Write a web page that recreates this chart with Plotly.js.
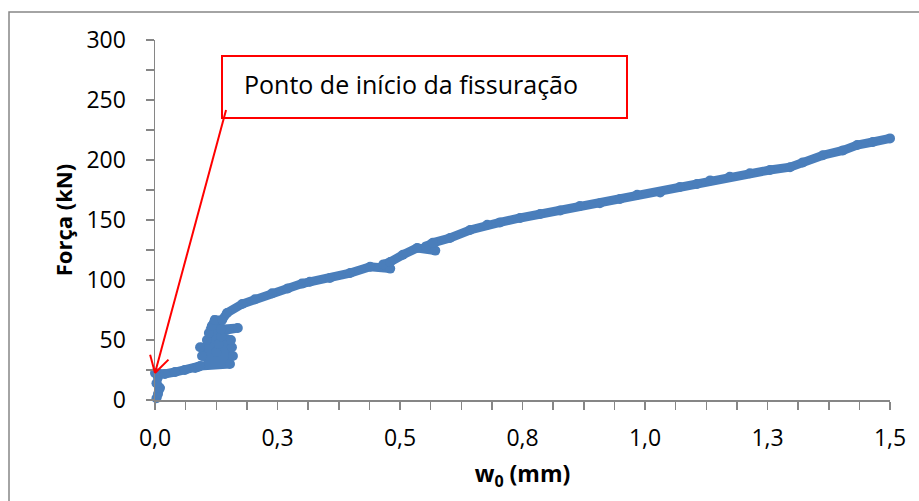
<!DOCTYPE html>
<html>
<head>
<meta charset="utf-8">
<script src="https://cdn.plot.ly/plotly-3.0.1.min.js"></script>
<style>
  html, body { margin: 0; padding: 0; background: #ffffff; }
  #chart { width: 919px; height: 501px; }
</style>
</head>
<body>
<div id="chart"></div>
<script>
// ---------- data ----------
const displacement = [
  0.003, 0.006, 0.010, 0.003, 0.006, 0.000,
  0.020, 0.041, 0.061, 0.082, 0.088,
  0.092, 0.153, 0.096, 0.159, 0.125, 0.092, 0.157, 0.130, 0.106, 0.155,
  0.135, 0.110, 0.169, 0.135, 0.116, 0.122, 0.137, 0.147,
  0.178, 0.204, 0.239, 0.271, 0.300, 0.316, 0.357, 0.398, 0.439,
  0.480, 0.466, 0.480, 0.506, 0.535, 0.572, 0.553, 0.567, 0.602,
  0.643, 0.678, 0.704, 0.745, 0.786, 0.827, 0.867, 0.908, 0.949,
  0.984, 1.031, 1.071, 1.106, 1.133, 1.173, 1.214, 1.255, 1.296,
  1.322, 1.363, 1.404, 1.433, 1.465, 1.500
];
const force = [
  1.5, 5, 10, 14, 19, 22.5,
  21.7, 23.3, 25, 26.7, 27.5,
  28.3, 30, 36.7, 36.7, 40, 44, 44, 47, 50, 50,
  53, 55.8, 60, 59, 61.7, 66.7, 66.7, 72.5,
  80, 84, 89, 93, 97, 98.5, 101.7, 105.8, 111,
  109.5, 113, 115, 121, 126.7, 124.5, 128, 131, 135,
  141.7, 146, 148, 151.7, 155, 158, 161.7, 164, 167.5,
  171, 173, 177.5, 180, 183, 186, 189, 191.7, 194,
  198, 204, 208, 212.5, 215, 218
];

const xTickVals = [0, 0.25, 0.5, 0.75, 1.0, 1.25, 1.5];
const xTickText = ["0,0", "0,3", "0,5", "0,8", "1,0", "1,3", "1,5"];
const yTickVals = [0, 50, 100, 150, 200, 250, 300];
const xRange = [0, 1.5];
const yRange = [0, 300];

const calloutText = "Ponto de início da fissuração";
const crackStart = { x: 0.0, y: 22.5 };   // arrow tip (data units)
const arrowTail  = { x: 0.145, y: 241.7 }; // arrow start (data units)

// ---------- layout geometry ----------
const W = 919, H = 501;
const M = { l: 155, r: 29, t: 40, b: 101 };
const plotW = W - M.l - M.r, plotH = H - M.t - M.b;
const toPaperX = v => (v - xRange[0]) / (xRange[1] - xRange[0]);
const toPaperY = v => (v - yRange[0]) / (yRange[1] - yRange[0]);
const pxToPaperX = px => (px - M.l) / plotW;
const pxToPaperY = py => (H - M.b - py) / plotH;

const axisGray = '#868686';
const red = '#ff0000';

// arrow head (open V) computed in pixel space
const tipPx  = { x: toPaperX(crackStart.x) * plotW, y: toPaperY(crackStart.y) * plotH };
const tailPx = { x: toPaperX(arrowTail.x) * plotW,  y: toPaperY(arrowTail.y) * plotH };
const dx = tailPx.x - tipPx.x, dy = tailPx.y - tipPx.y;
const len = Math.hypot(dx, dy);
const ux = dx / len, uy = dy / len;
const headLen = 19, headAng = 30 * Math.PI / 180;
function headPoint(sign) {
  const c = Math.cos(sign * headAng), s = Math.sin(sign * headAng);
  const hx = (ux * c - uy * s) * headLen, hy = (ux * s + uy * c) * headLen;
  return { x: (tipPx.x + hx) / plotW, y: (tipPx.y + hy) / plotH };
}
const tipP = { x: tipPx.x / plotW, y: tipPx.y / plotH };
const tailP = { x: tailPx.x / plotW, y: tailPx.y / plotH };
const h1 = headPoint(1), h2 = headPoint(-1);

const trace = {
  x: displacement,
  y: force,
  type: 'scatter',
  mode: 'lines+markers',
  line: { color: '#4a7ebb', width: 9 },
  marker: { color: '#4a7ebb', size: 10 },
  cliponaxis: false,
  hoverinfo: 'skip'
};

const fontFam = '"Open Sans", "Noto Sans", sans-serif';

const layout = {
  width: W, height: H,
  margin: M,
  paper_bgcolor: '#ffffff',
  plot_bgcolor: '#ffffff',
  showlegend: false,
  font: { family: fontFam, color: '#000000' },
  xaxis: {
    range: xRange,
    tickmode: 'array', tickvals: xTickVals, ticktext: xTickText,
    ticks: 'outside', ticklen: 8, tickwidth: 1.5, tickcolor: axisGray,
    minor: { tick0: 0, dtick: 0.0625, ticks: 'outside', ticklen: 8, tickwidth: 1.5, tickcolor: axisGray, showgrid: false },
    showline: true, linecolor: axisGray, linewidth: 1.5,
    showgrid: false, zeroline: false,
    tickfont: { size: 23, family: fontFam },
    ticklabelstandoff: 9,
    title: { text: '<b>w<sub>0</sub> (mm)</b>', font: { size: 23, family: fontFam }, standoff: 14 },
    automargin: false
  },
  yaxis: {
    range: yRange,
    tickmode: 'array', tickvals: yTickVals,
    ticks: 'outside', ticklen: 8, tickwidth: 1.5, tickcolor: axisGray,
    minor: { tick0: 0, dtick: 25, ticks: 'outside', ticklen: 8, tickwidth: 1.5, tickcolor: axisGray, showgrid: false },
    showline: true, linecolor: axisGray, linewidth: 1.5,
    showgrid: false, zeroline: false,
    tickfont: { size: 23, family: fontFam },
    ticklabelstandoff: 15,
    title: { text: '<b>Força (kN)</b>', font: { size: 22, family: fontFam }, standoff: 7 },
    automargin: false
  },
  shapes: [
    // outer chart frame
    { type: 'rect', xref: 'paper', yref: 'paper',
      x0: pxToPaperX(9), x1: pxToPaperX(935), y0: pxToPaperY(520), y1: pxToPaperY(12),
      line: { color: axisGray, width: 1.5 }, fillcolor: 'rgba(0,0,0,0)', layer: 'below' },
    // callout box
    { type: 'rect', xref: 'paper', yref: 'paper',
      x0: pxToPaperX(222), x1: pxToPaperX(627), y0: pxToPaperY(118), y1: pxToPaperY(56),
      line: { color: red, width: 2 }, fillcolor: 'rgba(255,255,255,0)' },
    // arrow shaft
    { type: 'line', xref: 'paper', yref: 'paper',
      x0: tailP.x, y0: tailP.y, x1: tipP.x, y1: tipP.y,
      line: { color: red, width: 2 } },
    // arrow head
    { type: 'line', xref: 'paper', yref: 'paper',
      x0: tipP.x, y0: tipP.y, x1: h1.x, y1: h1.y, line: { color: red, width: 2 } },
    { type: 'line', xref: 'paper', yref: 'paper',
      x0: tipP.x, y0: tipP.y, x1: h2.x, y1: h2.y, line: { color: red, width: 2 } }
  ],
  annotations: [
    { xref: 'paper', yref: 'paper',
      x: pxToPaperX(242), y: pxToPaperY(84),
      xanchor: 'left', yanchor: 'middle',
      text: calloutText, showarrow: false,
      font: { size: 25, family: fontFam, color: '#000000' } }
  ]
};

Plotly.newPlot('chart', [trace], layout, { staticPlot: true, displayModeBar: false });
</script>
</body>
</html>
